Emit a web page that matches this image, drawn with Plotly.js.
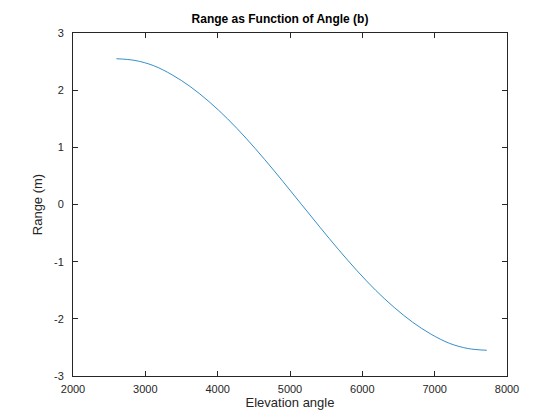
<!DOCTYPE html>
<html>
<head>
<script src="https://cdn.plot.ly/plotly-3.0.1.min.js"></script>
<style>body{margin:0;background:#fff}</style>
</head>
<body>
<div id="myDiv" style="width:560px;height:420px"></div>
<script>
// values
var angle = [2600, 2856, 3112, 3368, 3624, 3880, 4136, 4392, 4648, 4904, 5160,
             5416, 5672, 5928, 6184, 6440, 6696, 6952, 7208, 7464, 7720];
var range = [2.55, 2.52, 2.43, 2.27, 2.06, 1.80, 1.50, 1.16, 0.79, 0.40, 0.0,
             -0.40, -0.79, -1.16, -1.50, -1.80, -2.06, -2.27, -2.43, -2.52, -2.55];
var xTicks = [2000, 3000, 4000, 5000, 6000, 7000, 8000];
var yTicks = [-3, -2, -1, 0, 1, 2, 3];
var yTickText = ['-3', '-2', '-1', '0', '1', '2', '3'];

var axisStyle = {
  showline: true, mirror: 'ticks', linecolor: '#262626', linewidth: 1,
  ticks: 'inside', ticklen: 5, tickcolor: '#262626',
  showgrid: false, zeroline: false,
  tickfont: {size: 11, color: '#262626'}
};

var data = [{
  x: angle, y: range, mode: 'lines', type: 'scatter',
  line: {color: '#0072BD', width: 0.8, shape: 'spline'}
}];

var layout = {
  width: 560, height: 420,
  margin: {l: 73, r: 53, t: 33, b: 44},
  font: {family: 'Liberation Sans, Arial, sans-serif', color: '#262626'},
  title: {text: '<b>Range as Function of Angle (b)</b>', font: {size: 12, color: '#000'}, y: 0.955, yanchor: 'middle'},
  xaxis: Object.assign({}, axisStyle, {
    range: [2000, 8000], tickvals: xTicks, ticklabelstandoff: 3,
    title: {text: 'Elevation angle', font: {size: 13}, standoff: 2}
  }),
  yaxis: Object.assign({}, axisStyle, {
    range: [-3, 3], tickvals: yTicks, ticktext: yTickText, ticklabelstandoff: 6,
    title: {text: 'Range (m)', font: {size: 13}, standoff: 8}
  }),
  showlegend: false,
  plot_bgcolor: '#fff', paper_bgcolor: '#fff'
};

Plotly.newPlot('myDiv', data, layout, {displayModeBar: false, staticPlot: true});
</script>
</body>
</html>
